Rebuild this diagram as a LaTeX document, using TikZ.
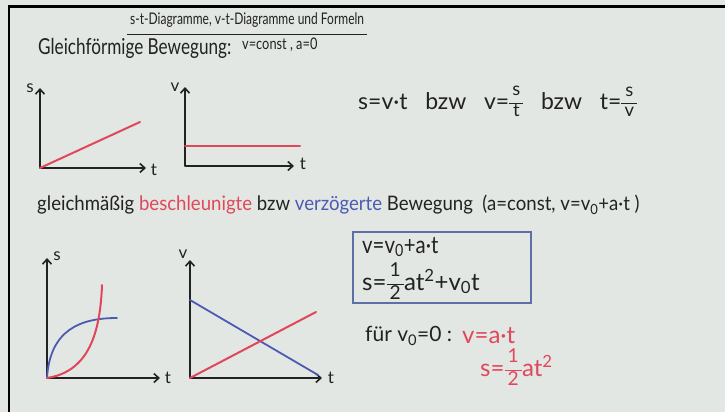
\documentclass[tikz,border=0pt]{standalone}
\usepackage{fontspec}
\usepackage{amsmath}
\usepackage{graphicx}
\setmainfont{Lato}
\usetikzlibrary{arrows.meta,calc}
\definecolor{bg}{HTML}{E3E7E3}
\definecolor{pen}{HTML}{222222}
\definecolor{rpen}{HTML}{E0485A}
\definecolor{bpen}{HTML}{4C5AB4}
\definecolor{boxc}{HTML}{5E6FA6}
\newcommand\hfr[2]{\ensuremath{\vcenter{\hbox{\scalebox{0.8}{\setlength\arrayrulewidth{1.6pt}\renewcommand\arraystretch{0.82}\begin{tabular}{@{\,}c@{\,}}#1\\[2pt]\hline\noalign{\vskip 1pt}#2\end{tabular}}}}}}
\newcommand\hw[2]{\scalebox{#1}[1]{#2}}
\tikzset{
  txt/.style={anchor=west, text=pen, inner sep=0pt},
  axis/.style={draw=pen, line width=1.8pt, line cap=round, line join=round,
    {Straight Barb[length=5pt,width=9pt,line width=1.6pt]}-{Straight Barb[length=5pt,width=9pt,line width=1.6pt]}},
  rline/.style={draw=rpen, line width=2pt, line cap=round},
  bline/.style={draw=bpen, line width=1.8pt, line cap=round},
  lbl/.style={text=pen, inner sep=0pt, font=\fontsize{17}{18}\selectfont},
}
\begin{document}
\begin{tikzpicture}[x=1pt,y=-1pt]
\fill[bg] (0,0) rectangle (725,412);
\useasboundingbox (0,0) rectangle (725,412);
\draw[black, line width=2.5pt] (725,6.5) -- (9,6.5) -- (9,412);

% title
\node[txt, font=\fontsize{16}{18}\selectfont] (title) at (130,20) {\hw{0.75}{s-t-Diagramme, v-t-Diagramme und Formeln}};
\coordinate (u1) at ($(title.south west)+(-3,7)$);
\coordinate (u2) at ($(title.south east)+(3,7)$);
\draw[pen, line width=1.6pt] (u1) -- (u2);

% uniform motion
\node[txt, font=\fontsize{22}{24}\selectfont] (gl) at (38,48) {\hw{0.78}{Gleichförmige Bewegung:}};
\node[txt, font=\fontsize{16}{18}\selectfont] (gc) at (242,45) {\hw{0.8}{v=const , a=0}};
\node[txt, font=\fontsize{23}{26}\selectfont] (f1) at (358,103) {s=v·t \ \ bzw \ \ v=\hfr{s}{t} \ \ bzw \ \ t=\hfr{s}{v}};

% graph 1
\coordinate (o1) at (40,168);
\coordinate (y1) at (40,88);
\coordinate (x1) at (146,168);
\draw[axis] (y1) -- (o1) -- (x1);
\node[lbl] (s1) at (30,88) {s};
\node[lbl] (t1) at (154,170) {t};
\coordinate (r1) at (140,122);
\draw[rline] (o1) -- (r1);

% graph 2
\coordinate (o2) at (185,166);
\coordinate (y2) at (185,87);
\coordinate (x2) at (294,166);
\draw[axis] (y2) -- (o2) -- (x2);
\node[lbl] (v2) at (175,87) {v};
\node[lbl] (t2) at (303,164) {t};
\coordinate (ra) at (185,146);
\coordinate (rb) at (300,146);
\draw[rline] (ra) -- (rb);

% accelerated motion line
\node[txt, font=\fontsize{20}{22}\selectfont] (gm) at (37,205) {\hw{0.93}{gleichmäßig \textcolor{rpen}{beschleunigte} bzw \textcolor{bpen}{verzögerte} Bewegung \ (a=const, v=v\textsubscript{0}+a·t )}};

% graph 3
\coordinate (o3) at (47,378);
\coordinate (y3) at (47,258);
\coordinate (x3) at (160,378);
\draw[axis] (y3) -- (o3) -- (x3);
\node[lbl] (s3) at (57,256) {s};
\node[lbl] (t3) at (168,378) {t};
\coordinate (b3) at (117,318);
\coordinate (r3) at (102,285);
\draw[bline] (o3) .. controls (50,330) and (80,318) .. (b3);
\draw[rline] (o3) .. controls (85,372) and (100,340) .. (r3);

% graph 4
\coordinate (o4) at (190,378);
\coordinate (y4) at (190,260);
\coordinate (x4) at (322,378);
\draw[axis] (y4) -- (o4) -- (x4);
\node[lbl] (v4) at (183,254) {v};
\node[lbl] (t4) at (331,378) {t};
\coordinate (ba) at (190,300);
\coordinate (bb) at (318,375);
\coordinate (rc) at (316,312);
\draw[bline] (ba) -- (bb);
\draw[rline] (o4) -- (rc);

% boxed formulas
\node[draw=boxc, line width=1.6pt, anchor=north west, minimum width=178pt, minimum height=71pt, inner sep=0pt] (box) at (352,231) {};
\node[txt, font=\fontsize{24}{26}\selectfont] (bf1) at (362,247) {\hw{0.85}{v=v\textsubscript{0}+a·t}};
\node[txt, font=\fontsize{24}{26}\selectfont] (bf2) at (362,284) {s=\hfr{1}{2}at\textsuperscript{2}+v\textsubscript{0}t};

% special case
\node[txt, font=\fontsize{21}{22}\selectfont] (fu) at (365,336) {für v\textsubscript{0}=0 :};
\node[txt, text=rpen, font=\fontsize{24}{26}\selectfont] (rv) at (462,336) {v=a·t};
\node[txt, text=rpen, font=\fontsize{24}{26}\selectfont] (rs) at (480,370) {s=\hfr{1}{2}at\textsuperscript{2}};
\end{tikzpicture}
\end{document}
